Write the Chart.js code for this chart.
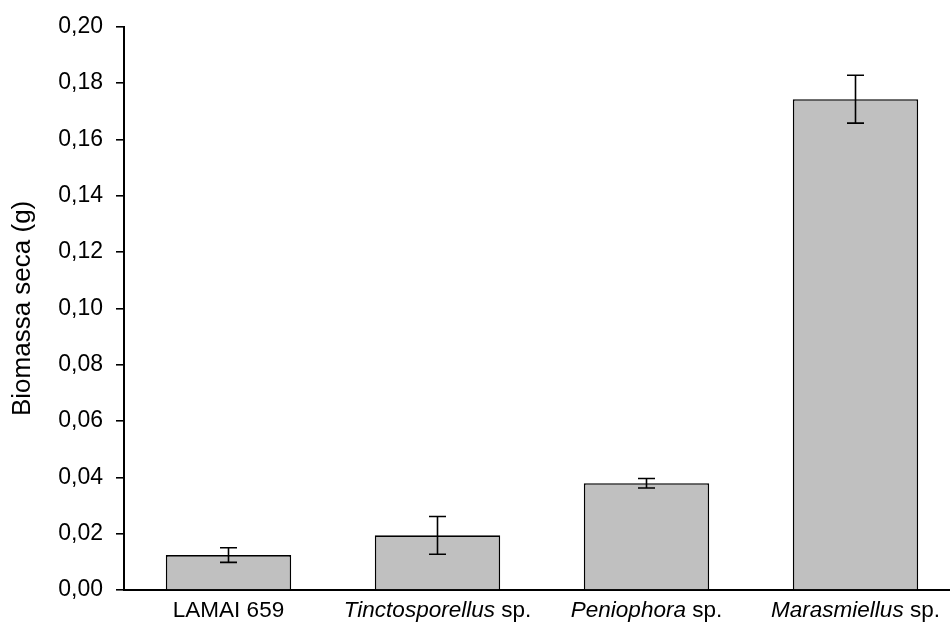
<!DOCTYPE html>
<html>
<head>
<meta charset="utf-8">
<script src="https://cdn.jsdelivr.net/npm/chart.js@4"></script>
<style>
  html, body { margin: 0; padding: 0; background: #fff; overflow: hidden; }
  #wrap { width: 960px; height: 625px; }
</style>
</head>
<body>
<div id="wrap"><canvas id="c" width="960" height="625"></canvas></div>
<script>
// Dry biomass per isolate (g), mean and standard error
const categories = ['LAMAI 659', 'Tinctosporellus sp.', 'Peniophora sp.', 'Marasmiellus sp.'];
const italicPart = ['', 'Tinctosporellus', 'Peniophora', 'Marasmiellus'];
const biomassMean = [0.0124, 0.0194, 0.0379, 0.1743];
const biomassErr = [0.0026, 0.0067, 0.0017, 0.0085];
const yTickLabels = ['0,00', '0,02', '0,04', '0,06', '0,08', '0,10', '0,12', '0,14', '0,16', '0,18', '0,20'];

const FONT = '"Liberation Sans", Arial, sans-serif';
const TICK_FS = 23;
const CAT_FS = 22.5;
const TITLE_FS = 26;

// Vertical error bars with caps
const errorBars = {
  id: 'errorBars',
  afterDatasetsDraw(chart) {
    const meta = chart.getDatasetMeta(0);
    const y = chart.scales.y;
    const ctx = chart.ctx;
    ctx.save();
    ctx.strokeStyle = '#000';
    ctx.lineWidth = 1.6;
    meta.data.forEach((bar, i) => {
      const x = bar.x;
      const top = y.getPixelForValue(biomassMean[i] + biomassErr[i]);
      const bot = y.getPixelForValue(biomassMean[i] - biomassErr[i]);
      const cap = 8.5;
      ctx.beginPath();
      ctx.moveTo(x, top); ctx.lineTo(x, bot);
      ctx.moveTo(x - cap, top); ctx.lineTo(x + cap, top);
      ctx.moveTo(x - cap, bot); ctx.lineTo(x + cap, bot);
      ctx.stroke();
    });
    ctx.restore();
  }
};

// Category labels with italic genus names
const mixedLabels = {
  id: 'mixedLabels',
  afterDraw(chart) {
    const xs = chart.scales.x;
    const ctx = chart.ctx;
    const baseY = chart.chartArea.bottom + 27;
    ctx.save();
    ctx.fillStyle = '#000';
    ctx.textBaseline = 'alphabetic';
    ctx.textAlign = 'left';
    categories.forEach((label, i) => {
      const it = italicPart[i];
      const rest = label.slice(it.length);
      const fi = 'italic ' + CAT_FS + 'px ' + FONT;
      const fn = CAT_FS + 'px ' + FONT;
      ctx.font = fi; const wi = it ? ctx.measureText(it).width : 0;
      ctx.font = fn; const wr = ctx.measureText(rest).width;
      let x = xs.getPixelForValue(i) - (wi + wr) / 2;
      if (it) { ctx.font = fi; ctx.fillText(it, x, baseY); x += wi; }
      ctx.font = fn; ctx.fillText(rest, x, baseY);
    });
    ctx.restore();
  }
};

new Chart(document.getElementById('c'), {
  type: 'bar',
  data: {
    labels: categories,
    datasets: [{
      data: biomassMean,
      backgroundColor: '#c0c0c0',
      borderColor: '#000',
      borderWidth: 1.6,
      borderSkipped: 'bottom',
      categoryPercentage: 1,
      barPercentage: 0.6
    }]
  },
  options: {
    responsive: false,
    animation: false,
    layout: { padding: { top: 24, right: 0, bottom: 0, left: 0 } },
    plugins: { legend: { display: false }, tooltip: { enabled: false } },
    scales: {
      x: {
        grid: { display: false },
        border: { display: true, color: '#000', width: 2 },
        ticks: { display: false },
        afterFit(scale) { scale.height = 35; }
      },
      y: {
        min: 0,
        max: 0.2,
        ticks: {
          stepSize: 0.02,
          padding: 13,
          color: '#000',
          font: { family: FONT, size: TICK_FS },
          callback: (v, i) => yTickLabels[i]
        },
        grid: { drawOnChartArea: false, drawTicks: true, tickLength: 8, color: '#000', lineWidth: 1.6 },
        border: { display: true, color: '#000', width: 2 },
        title: {
          display: true,
          text: 'Biomassa seca (g)',
          color: '#000',
          font: { family: FONT, size: TITLE_FS },
          padding: { top: 7, bottom: 0 }
        },
        afterFit(scale) { scale.width = 124; }
      }
    }
  },
  plugins: [errorBars, mixedLabels]
});
</script>
</body>
</html>
